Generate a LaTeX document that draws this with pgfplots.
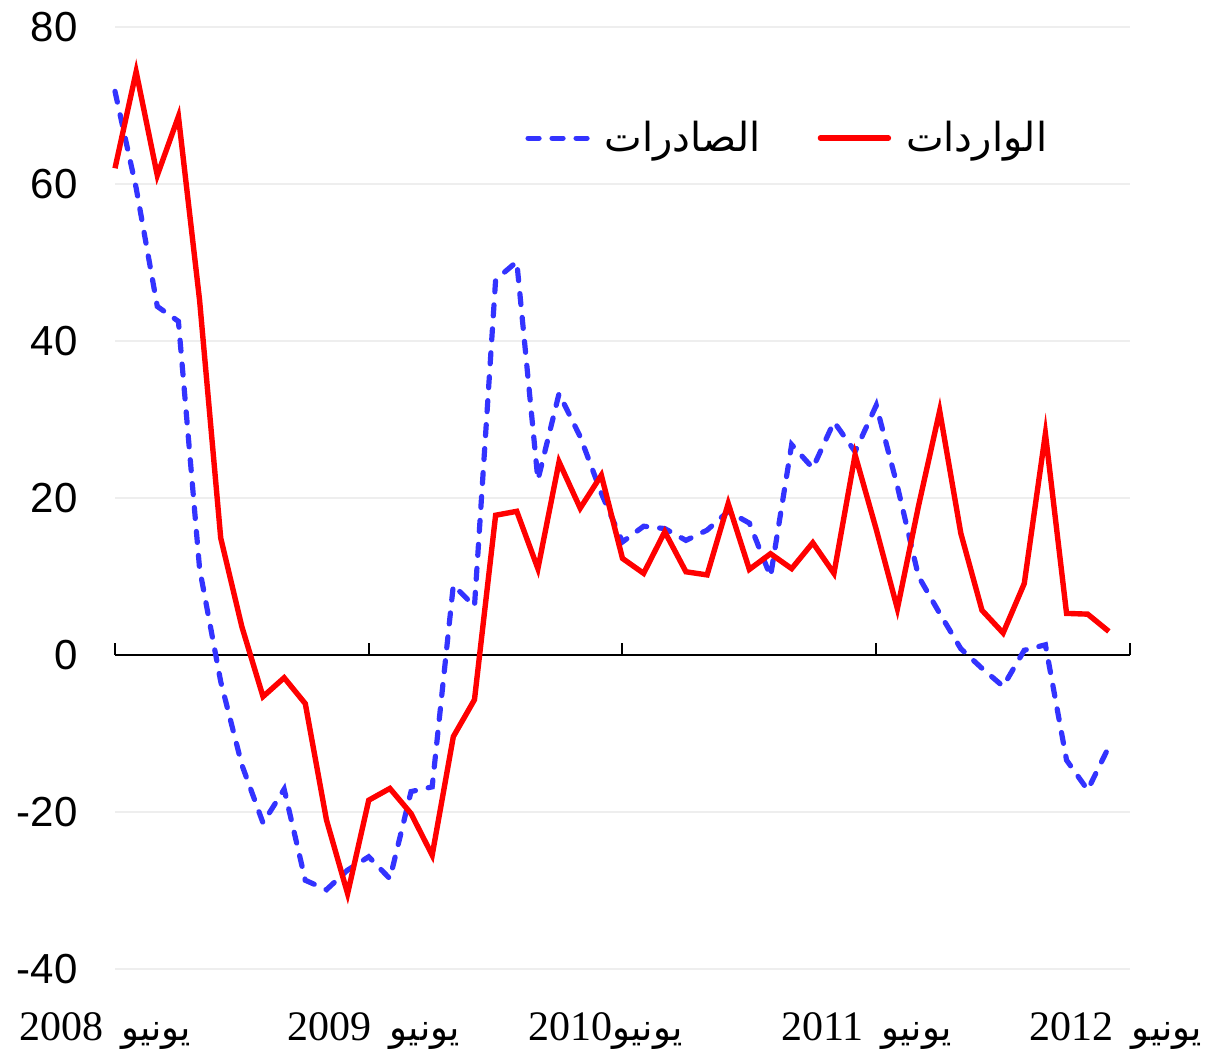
\documentclass[border=0pt]{standalone}
\usepackage{pgfplots}
\pgfplotsset{compat=1.18}
\usepackage{fontspec}
\setmainfont{Liberation Sans}
\newfontfamily\serif{Liberation Serif}
\newfontfamily\arabicfont[Script=Arabic]{DejaVu Sans}
\TeXXeTstate=1
\definecolor{expblue}{RGB}{51,51,255}
\definecolor{impred}{RGB}{255,0,0}
\definecolor{gridgray}{RGB}{238,238,238}

\pgfplotsset{
  dashimg/.style={legend image code/.code={\draw[##1] (0pt,0pt) -- (29.5pt,0pt);}},
  lineimg/.style={legend image code/.code={\draw[##1, line cap=round] (0pt,0pt) -- (34pt,0pt);}},
}
\newcommand{\junelabel}[1]{{\serif #1}\hspace{9pt}{\fontsize{18.5}{22}\selectfont\arabicfont\beginR يونيو\endR}}

% monthly, June 2008 = 0
\pgfplotstableread{
m v
0 71.8
1 59.5
2 44.4
3 42.5
4 11.0
5 -3.4
6 -14.0
7 -21.4
8 -17.1
9 -28.7
10 -29.9
11 -27.4
12 -25.7
13 -28.5
14 -17.4
15 -16.8
16 8.9
17 6.2
18 47.8
19 50.1
20 22.3
21 33.3
22 27.8
23 20.6
24 14.4
25 16.4
26 16.1
27 14.6
28 15.9
29 18.3
30 16.8
31 10.0
32 26.8
33 23.8
34 29.7
35 25.9
36 31.8
37 21.5
38 10.0
39 5.3
40 0.8
41 -1.7
42 -4.0
43 0.6
44 1.3
45 -13.4
46 -17.2
47 -11.7
}\exports

\pgfplotstableread{
m v
0 62.0
1 74.3
2 61.1
3 68.6
4 45.2
5 14.9
6 3.6
7 -5.3
8 -2.9
9 -6.2
10 -21.0
11 -30.4
12 -18.5
13 -17.0
14 -20.2
15 -25.5
16 -10.4
17 -5.7
18 17.8
19 18.3
20 11.0
21 24.6
22 18.7
23 22.9
24 12.3
25 10.4
26 15.7
27 10.6
28 10.2
29 19.3
30 10.9
31 12.9
32 11.0
33 14.3
34 10.4
35 25.5
36 16.0
37 5.9
38 19.0
39 31.1
40 15.5
41 5.7
42 2.8
43 9.1
44 28.2
45 5.3
46 5.2
47 3.0
}\imports

\begin{document}
\begin{tikzpicture}
\useasboundingbox (-57.5pt,-41.5pt) rectangle (545.5pt,484.5pt);
\begin{axis}[
  scale only axis,
  width=507.5pt, height=471pt,
  xmin=0, xmax=48,
  ymin=-40, ymax=80,
  clip=false,
  axis line style={draw=none},
  tick style={draw=none},
  xtick={0,12,24,36,48},
  xticklabels={
    {\junelabel{2008}},
    {\hspace*{15pt}\junelabel{2009}},
    {{\serif 2010}{\fontsize{18.5}{22}\selectfont\arabicfont\beginR يونيو\endR}\hspace*{7pt}},
    {\junelabel{2011}},
    {\junelabel{2012}\hspace*{4pt}}},
  xticklabel style={font=\fontsize{21}{25}\selectfont, anchor=base, inner sep=0pt, yshift=-36pt, xshift=-5pt},
  ytick={-40,-20,0,20,40,60,80},
  yticklabels={-40,-20,0,20,40,60,80},
  yticklabel style={font=\fontsize{21}{25}\selectfont, anchor=east, inner sep=0pt, xshift=-18.5pt},
  ymajorgrids,
  grid style={gridgray, line width=0.8pt},
  legend columns=2,
  legend style={draw=none, fill=none, inner sep=0pt, at={(0.404,0.882)}, anchor=west,
    font=\fontsize{20}{24}\selectfont,
    /tikz/every odd column/.append style={column sep=5.5pt},
    /tikz/every even column/.append style={column sep=26.5pt}},
  legend cell align=left,
]
\draw[black, line width=1pt] (axis cs:0,0) -- (axis cs:48,0);
\draw[black, line width=1pt] (axis cs:0,0) -- (axis cs:0,1.5);
\draw[black, line width=1pt] (axis cs:12,0) -- (axis cs:12,1.5);
\draw[black, line width=1pt] (axis cs:24,0) -- (axis cs:24,1.5);
\draw[black, line width=1pt] (axis cs:36,0) -- (axis cs:36,1.5);
\draw[black, line width=1pt] (axis cs:48,0) -- (axis cs:48,1.5);

\addplot[expblue, line width=2.6pt, line cap=round, dash pattern=on 5.5pt off 6.5pt, dashimg]
  table[x=m, y=v] {\exports};
\addlegendentry{\arabicfont\beginR الصادرات\endR}

\addplot[impred, line width=2.7pt, lineimg]
  table[x=m, y=v] {\imports};
\addlegendentry{\arabicfont\beginR الواردات\endR}
\end{axis}
\end{tikzpicture}
\end{document}
